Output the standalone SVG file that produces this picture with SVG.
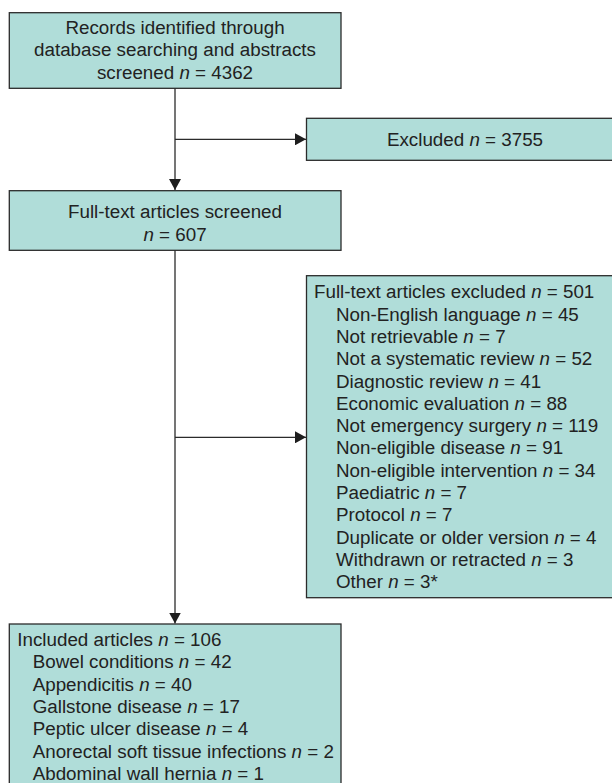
<svg xmlns="http://www.w3.org/2000/svg" width="612" height="783" viewBox="0 0 612 783">
<style>
.box{fill:#b0ddd9;stroke:#2b2b2b;stroke-width:1.3}
text{font-family:"Liberation Sans",Arial,sans-serif;font-size:18.8px;fill:#222}
.c{text-anchor:middle}
.i{font-style:italic}
.ln{stroke:#2b2b2b;stroke-width:1.3;fill:none}
</style>
<defs>
<marker id="ah" markerWidth="12" markerHeight="12" refX="11" refY="6" orient="auto" markerUnits="userSpaceOnUse">
<path d="M0,0 L11,6 L0,12 Z" fill="#1e1e1e"/>
</marker>
</defs>
<rect width="612" height="783" fill="#fff"/>
<g id="connectors">
<line class="ln" x1="175" y1="88" x2="175" y2="190" marker-end="url(#ah)"/>
<line class="ln" x1="175" y1="139.3" x2="306" y2="139.3" marker-end="url(#ah)"/>
<line class="ln" x1="175" y1="250" x2="175" y2="623.5" marker-end="url(#ah)"/>
<line class="ln" x1="175" y1="437.3" x2="306" y2="437.3" marker-end="url(#ah)"/>
</g>
<g id="records">
<rect class="box" x="9.3" y="12.7" width="331.7" height="75.6"/>
<text class="c" x="175" y="34">Records identified through</text>
<text class="c" x="175" y="56.3">database searching and abstracts</text>
<text class="c" x="175" y="78.6">screened <tspan class="i">n</tspan> = 4362</text>
</g>
<g id="excluded">
<rect class="box" x="306.5" y="118.3" width="320" height="42"/>
<text class="c" x="465" y="145.5">Excluded <tspan class="i">n</tspan> = 3755</text>
</g>
<g id="fulltext">
<rect class="box" x="9.3" y="190.7" width="331.7" height="59.6"/>
<text class="c" x="175" y="218.3">Full-text articles screened</text>
<text class="c" x="175" y="240.6"><tspan class="i">n</tspan> = 607</text>
</g>
<g id="ftexcluded">
<rect class="box" x="306.5" y="275.7" width="320" height="322"/>
<text x="314" y="298.3">Full-text articles excluded <tspan class="i">n</tspan> = 501</text>
<text x="336" y="320.6">Non-English language <tspan class="i">n</tspan> = 45</text>
<text x="336" y="342.9">Not retrievable <tspan class="i">n</tspan> = 7</text>
<text x="336" y="365.2">Not a systematic review <tspan class="i">n</tspan> = 52</text>
<text x="336" y="387.5">Diagnostic review <tspan class="i">n</tspan> = 41</text>
<text x="336" y="409.8">Economic evaluation <tspan class="i">n</tspan> = 88</text>
<text x="336" y="432.1">Not emergency surgery <tspan class="i">n</tspan> = 119</text>
<text x="336" y="454.4">Non-eligible disease <tspan class="i">n</tspan> = 91</text>
<text x="336" y="476.7">Non-eligible intervention <tspan class="i">n</tspan> = 34</text>
<text x="336" y="499">Paediatric <tspan class="i">n</tspan> = 7</text>
<text x="336" y="521.3">Protocol <tspan class="i">n</tspan> = 7</text>
<text x="336" y="543.6">Duplicate or older version <tspan class="i">n</tspan> = 4</text>
<text x="336" y="565.9">Withdrawn or retracted <tspan class="i">n</tspan> = 3</text>
<text x="336" y="588.2">Other <tspan class="i">n</tspan> = 3*</text>
</g>
<g id="included">
<rect class="box" x="9.3" y="624" width="331.7" height="170"/>
<text x="17.3" y="646">Included articles <tspan class="i">n</tspan> = 106</text>
<text x="32.7" y="668.3">Bowel conditions <tspan class="i">n</tspan> = 42</text>
<text x="32.7" y="690.6">Appendicitis <tspan class="i">n</tspan> = 40</text>
<text x="32.7" y="712.9">Gallstone disease <tspan class="i">n</tspan> = 17</text>
<text x="32.7" y="735.2">Peptic ulcer disease <tspan class="i">n</tspan> = 4</text>
<text x="32.7" y="757.5">Anorectal soft tissue infections <tspan class="i">n</tspan> = 2</text>
<text x="32.7" y="779.8">Abdominal wall hernia <tspan class="i">n</tspan> = 1</text>
</g>
</svg>
